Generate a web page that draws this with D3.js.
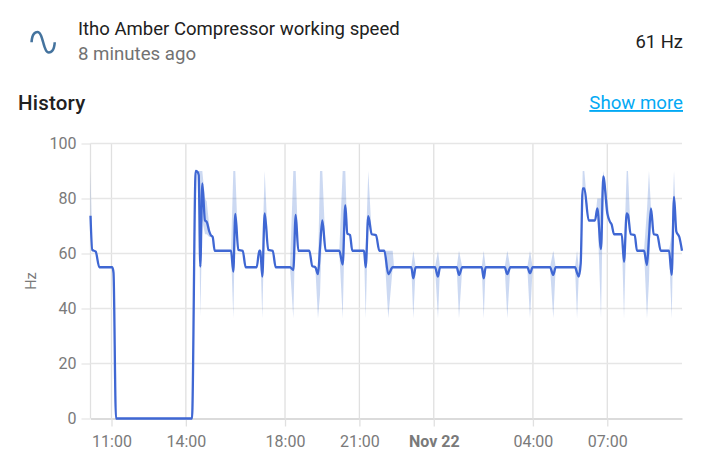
<!DOCTYPE html>
<html>
<head>
<meta charset="utf-8">
<script src="https://cdn.jsdelivr.net/npm/d3@7"></script>
<style>
html, body { margin: 0; padding: 0; background: #fff; }
svg { display: block; font-family: Roboto, sans-serif; }
</style>
</head>
<body>
<svg id="chart" width="707" height="476"></svg>
<script>
'use strict';

// hours since Nov 21 00:00
var times = [
    10.153, 10.225, 10.363, 10.508, 11.032, 11.081, 11.181, 14.247,
    14.396, 14.469, 14.518, 14.582, 14.663, 14.772, 14.840, 14.945, 15.002, 15.082, 15.163,
    15.821, 15.914, 15.994, 16.115, 16.293, 16.413, 16.857, 16.962, 17.003, 17.083, 17.180,
    17.325, 17.503, 17.624, 18.201, 18.334, 18.431, 18.536, 18.979, 19.100, 19.221, 19.330, 19.411, 19.504,
    19.641, 20.189, 20.326, 20.432, 20.512, 20.621, 20.714, 21.186, 21.254, 21.359, 21.496,
    21.670, 21.803, 22.005, 22.166, 22.344, 22.400, 23.094, 23.175, 23.271, 24.050, 24.171, 24.252,
    24.925, 25.018, 25.151, 25.934, 26.015, 26.095, 26.861, 26.967, 27.088, 27.773, 27.882, 27.991,
    28.689, 28.822, 28.919, 29.698, 29.780, 29.847, 29.928, 30.008, 30.073, 30.250, 30.505, 30.597,
    30.747, 30.840, 31.001, 31.110, 31.178, 31.271, 31.582, 31.675, 31.783, 31.835, 31.944,
    32.106, 32.198, 32.481, 32.602, 32.682, 32.763, 32.872, 33.018, 33.155, 33.490, 33.599,
    33.692, 33.785, 33.906, 34.014
];
var values = [
    73.7, 61.3, 60.7, 55, 55, 53, 0, 0,
    90, 89.7, 88.5, 55.2, 85.5, 72, 71.5, 68, 66.7, 66, 61,
    61, 53.4, 74.4, 61.3, 61, 55, 55, 61, 61, 51.6, 74.6,
    61.3, 61, 55, 55, 54, 74, 61, 61, 55.4, 55, 52.5, 62, 72,
    61, 61, 56, 77.6, 67.3, 66.7, 61, 61, 55, 73.6, 67,
    66.7, 61, 61, 52.5, 55, 55, 55, 51, 55, 55, 51.6, 55,
    55, 52.2, 55, 55, 51, 55, 55, 52.5, 55, 55, 52.8, 55,
    55, 52.2, 55, 55, 53, 51.6, 56.4, 83.7, 83.7, 72, 72, 76.4,
    61.6, 88, 74.6, 71.5, 70.5, 67, 67, 57, 74.6, 74, 67,
    66.7, 61, 61, 55.8, 66, 76.4, 67, 66.7, 61, 61, 52.2,
    80.6, 68, 66, 61
];
var bandHigh = [
    90, 61.3, 60.7, 55, 55, 53, 0, 0,
    90, 90, 90, 90, 90, 80, 79, 70, 67, 66, 61,
    61, 90, 90, 61.3, 61, 55, 55, 61, 61, 61, 90,
    61.3, 61, 55, 55, 90, 90, 61, 61, 55.4, 55, 55, 90, 90,
    61, 61, 90, 90, 67.3, 66.7, 61, 61, 61, 90, 67,
    66.7, 61, 61, 61, 61, 55, 55, 61, 55, 55, 61, 55,
    55, 61, 55, 55, 61, 55, 55, 61, 55, 55, 61, 55,
    55, 61, 55, 55, 61, 55, 56.4, 90, 90, 72, 72, 80,
    80, 90, 80, 71.5, 70.5, 67, 67, 61, 90, 90, 67,
    66.7, 61, 61, 76, 90, 76.4, 67, 66.7, 61, 61, 67,
    90, 68, 66, 61
];
var bandLow = [
    73.7, 61.3, 60.7, 55, 55, 53, 0, 0,
    90, 89.7, 88, 37, 72, 67, 67, 66, 66, 66, 61,
    61, 36.5, 74.4, 61.3, 61, 55, 55, 61, 61, 36.5, 74.6,
    61.3, 61, 55, 55, 36.5, 74, 61, 61, 55.4, 55, 36.5, 45, 72,
    61, 61, 36.5, 77.6, 67.3, 66.7, 61, 61, 36.5, 73.6, 67,
    66.7, 61, 61, 36.5, 55, 55, 55, 36.5, 55, 55, 36.5, 55,
    55, 36.5, 55, 55, 36.5, 55, 55, 36.5, 55, 55, 36.5, 55,
    55, 36.5, 55, 55, 36.5, 51.6, 56.4, 83.7, 83.7, 72, 72, 76.4,
    36.5, 88, 74.6, 71.5, 70.5, 67, 67, 36.5, 74.6, 74, 67,
    66.7, 61, 61, 36.5, 50, 76.4, 67, 66.7, 61, 61, 36.5,
    80.6, 68, 66, 61
];

var yTicks = [0, 20, 40, 60, 80, 100];
var xTicks = [11, 14, 18, 21, 24, 28, 31];
var xTickLabels = ['11:00', '14:00', '18:00', '21:00', 'Nov 22', '04:00', '07:00'];

var svg = d3.select('#chart');

var plotLeft = 90.5, plotRight = 682, plotTop = 143.5, plotBottom = 418.5;
var x = d3.scaleLinear().domain([10.153, 34.014]).range([plotLeft, plotRight]);
var y = d3.scaleLinear().domain([0, 100]).range([plotBottom, plotTop]);

// header
svg.append('path')
    .attr('transform', 'translate(27.8,26.9) scale(1.28)')
    .attr('fill', '#44739e')
    .attr('d', 'M16.5,21C13.5,21 12.31,16.76 11.05,12.28C10.14,9.04 9,5 7.5,5C4.11,5 4,11.93 4,12H2C2,11.63 2.06,3 7.5,3C10.5,3 11.71,7.25 12.97,11.74C13.83,14.8 15,19 16.5,19C19.94,19 20.03,12.07 20.03,12H22C22,12.37 21.94,21 16.5,21Z');

svg.append('text').attr('x', 78).attr('y', 35)
    .attr('font-size', 18.55).attr('fill', '#212121')
    .text('Itho Amber Compressor working speed');
svg.append('text').attr('x', 78).attr('y', 60)
    .attr('font-size', 18.67).attr('fill', '#727272')
    .text('8 minutes ago');
svg.append('text').attr('x', 683).attr('y', 48).attr('text-anchor', 'end')
    .attr('font-size', 18.4).attr('fill', '#212121')
    .text('61 Hz');
svg.append('text').attr('x', 18).attr('y', 110)
    .attr('font-size', 20.5).attr('font-weight', 500).attr('fill', '#212121')
    .attr('letter-spacing', 0.2)
    .text('History');
svg.append('text').attr('x', 683).attr('y', 109).attr('text-anchor', 'end')
    .attr('font-size', 18.67).attr('fill', '#03a9f4')
    .attr('text-decoration', 'underline')
    .text('Show more');

// axes
var xAxis = d3.axisBottom(x)
    .tickValues(xTicks)
    .tickSizeInner(8)
    .tickSizeOuter(0)
    .tickFormat(function (d, i) { return xTickLabels[i]; });
var yAxis = d3.axisLeft(y)
    .tickValues(yTicks)
    .tickSize(9);

var gx = svg.append('g').attr('transform', 'translate(0,' + plotBottom + ')').call(xAxis);
var gy = svg.append('g').attr('transform', 'translate(' + plotLeft + ',0)').call(yAxis);

gx.select('.domain').attr('stroke', '#cfcfcf').attr('stroke-width', 1.3);
gy.select('.domain').remove();

gx.selectAll('.tick line').attr('stroke', '#e0e0e0').attr('stroke-width', 1.3);
gy.selectAll('.tick line').attr('stroke', '#e6e6e6').attr('stroke-width', 1.3);

// vertical grid, the left edge has one too
svg.append('g').selectAll('line')
    .data(xTicks.concat([x.domain()[0]]))
    .enter().append('line')
    .attr('x1', function (d) { return x(d); })
    .attr('x2', function (d) { return x(d); })
    .attr('y1', plotTop).attr('y2', plotBottom)
    .attr('stroke', '#e0e0e0').attr('stroke-width', 1.3);

// horizontal grid
svg.append('g').selectAll('line')
    .data(yTicks.slice(1))
    .enter().append('line')
    .attr('x1', plotLeft).attr('x2', plotRight)
    .attr('y1', function (d) { return y(d); })
    .attr('y2', function (d) { return y(d); })
    .attr('stroke', '#e6e6e6').attr('stroke-width', 1.3);

gx.selectAll('.tick text')
    .attr('y', 17)
    .attr('dy', '0.71em')
    .attr('font-family', 'Roboto, sans-serif')
    .attr('font-size', 16)
    .attr('fill', '#7a7a7a')
    .attr('font-weight', function (d) { return d === 24 ? 700 : 400; });
gy.selectAll('.tick text')
    .attr('x', -14)
    .attr('font-family', 'Roboto, sans-serif')
    .attr('font-size', 16)
    .attr('fill', '#7a7a7a');

svg.append('text')
    .attr('transform', 'translate(36,281) rotate(-90)')
    .attr('text-anchor', 'middle')
    .attr('font-size', 14.5).attr('fill', '#7a7a7a')
    .text('Hz');

// min/max band and mean line
var area = d3.area()
    .x(function (d) { return x(times[d]); })
    .y0(function (d) { return y(bandLow[d]); })
    .y1(function (d) { return y(bandHigh[d]); })
    .curve(d3.curveLinear);

var line = d3.line()
    .x(function (d) { return x(times[d]); })
    .y(function (d) { return y(values[d]); })
    .curve(d3.curveMonotoneX);

svg.append('path')
    .datum(d3.range(times.length))
    .attr('d', area)
    .attr('fill', '#3366cc')
    .attr('fill-opacity', 0.25);

svg.append('path')
    .datum(d3.range(times.length))
    .attr('d', line)
    .attr('fill', 'none')
    .attr('stroke', '#3f67d3')
    .attr('stroke-width', 2.3)
    .attr('stroke-linejoin', 'round');
</script>
</body>
</html>
